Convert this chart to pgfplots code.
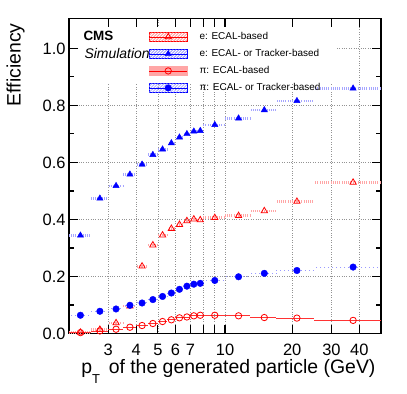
\documentclass[border=0pt]{standalone}
\usepackage{fontspec}
\setmainfont{Liberation Sans}
\usepackage{pgfplots}
\pgfplotsset{compat=1.18}
\usepackage{pgfplotstable}

% bin centre, value, half widths of the pT bin
\pgfplotstableread{
x    y     em   ep
2.25 0.004 0.25 0.25
2.75 0.014 0.25 0.25
3.25 0.037 0.25 0.25
3.75 0.096 0.25 0.25
4.25 0.236 0.25 0.25
4.75 0.310 0.25 0.25
5.25 0.345 0.25 0.25
5.75 0.368 0.25 0.25
6.25 0.382 0.25 0.25
6.75 0.395 0.25 0.25
7.25 0.401 0.25 0.25
7.75 0.398 0.25 0.25
9    0.406 1    1
11.5 0.413 1.5  1.5
15   0.430 2    2
21   0.463 4    4
37.5 0.530 12.5 12.5
}\eecal
\pgfplotstableread{
x    y     em   ep
2.25 0.344 0.25 0.25
2.75 0.474 0.25 0.25
3.25 0.518 0.25 0.25
3.75 0.558 0.25 0.25
4.25 0.593 0.25 0.25
4.75 0.627 0.25 0.25
5.25 0.646 0.25 0.25
5.75 0.668 0.25 0.25
6.25 0.688 0.25 0.25
6.75 0.700 0.25 0.25
7.25 0.709 0.25 0.25
7.75 0.711 0.25 0.25
9    0.732 1    1
11.5 0.755 1.5  1.5
15   0.784 2    2
21   0.816 4    4
37.5 0.860 12.5 12.5
}\etrk
\pgfplotstableread{
x    y     em   ep
2.25 0.003 0.25 0.25
2.75 0.009 0.25 0.25
3.25 0.015 0.25 0.25
3.75 0.022 0.25 0.25
4.25 0.028 0.25 0.25
4.75 0.035 0.25 0.25
5.25 0.042 0.25 0.25
5.75 0.048 0.25 0.25
6.25 0.055 0.25 0.25
6.75 0.058 0.25 0.25
7.25 0.062 0.25 0.25
7.75 0.064 0.25 0.25
9    0.064 1    1
11.5 0.062 1.5  1.5
15   0.056 2    2
21   0.054 4    4
37.5 0.046 12.5 12.5
}\piecal
\pgfplotstableread{
x    y     em   ep
2.25 0.064 0.25 0.25
2.75 0.078 0.25 0.25
3.25 0.086 0.25 0.25
3.75 0.099 0.25 0.25
4.25 0.107 0.25 0.25
4.75 0.119 0.25 0.25
5.25 0.130 0.25 0.25
5.75 0.142 0.25 0.25
6.25 0.155 0.25 0.25
6.75 0.166 0.25 0.25
7.25 0.173 0.25 0.25
7.75 0.176 0.25 0.25
9    0.186 1    1
11.5 0.199 1.5  1.5
15   0.211 2    2
21   0.221 4    4
37.5 0.233 12.5 12.5
}\pitrk

% hatched legend box, colour as argument
\newcommand{\hatchbox}[1]{%
  \begin{scope}
    \clip (0bp,-4.5bp) rectangle (38bp,4.5bp);
    \foreach \i in {-9,-6,...,39} {\draw[#1, line width=0.6bp] (\i bp,-4.5bp) -- ++(9bp,9bp);}
  \end{scope}}

\begin{document}
\begin{tikzpicture}
\begin{axis}[
  scale only axis, width=312bp, height=315bp,
  xmode=log, xmin=2, xmax=50, ymin=0, ymax=1.105,
  xtick={2,3,4,5,6,7,8,9,10,20,30,40,50},
  xticklabels={,3,4,5,6,7,,,10,20,30,40,},
  minor xtick={},
  ytick={0,0.2,0.4,0.6,0.8,1.0}, minor y tick num=1,
  tick align=inside, major tick length=9bp, minor tick length=5bp,
  tick style={black, line width=1.1bp},
  axis line style={line width=1.6bp},
  grid=major, grid style={dotted, gray!85, line width=0.6bp},
  tick label style={font=\fontsize{16.5}{16.5}\selectfont},
  xticklabel style={anchor=base, yshift=-22.4bp},
  y tick label style={/pgf/number format/.cd, fixed, fixed zerofill, precision=1, assume math mode=true},
  xlabel={p\raisebox{-0.5em}{\fontsize{13}{13}\selectfont T}\, of the generated particle (GeV)},
  xlabel style={at={(rel axis cs:0.9936,-0.127)}, anchor=base east, font=\fontsize{19.5}{19.5}\selectfont},
  ylabel={Efficiency},
  ylabel style={at={(rel axis cs:-0.1548,0.9952)}, anchor=base east, font=\fontsize{19.5}{19.5}\selectfont},
  legend style={at={(0.2554,0.958)}, anchor=north west, draw=none, fill=none,
    inner sep=0pt, row sep=7bp, column sep=12bp,
    font=\fontsize{10}{10}\selectfont,
    nodes={inner sep=0pt, text height=7.5bp, text depth=2.5bp}},
  legend cell align=left,
]
\fill[white] (rel axis cs:0.032,0.792) rectangle (rel axis cs:0.859,0.973);

\addplot[only marks, mark=triangle, mark size=3.6bp, red, mark options={line width=0.8bp},
  error bars/.cd, x dir=both, x explicit, error mark=none,
  error bar style={line width=2.6bp, red!35, dash pattern=on 0.6bp off 1.6bp},
  /pgfplots/legend image code/.code={
    \hatchbox{red!45}
    \draw[red, line width=0.7bp] (0bp,0bp) -- (38bp,0bp);
    \draw plot coordinates {(19bp,0bp)};}]
  table[x=x, y=y, x error minus=em, x error plus=ep] {\eecal};
\addlegendentry{e: ECAL-based}

\addplot[only marks, mark=triangle*, mark size=3.6bp, blue,
  error bars/.cd, x dir=both, x explicit, error mark=none,
  error bar style={line width=2.6bp, blue!35, dash pattern=on 0.6bp off 1.6bp},
  /pgfplots/legend image code/.code={
    \hatchbox{blue!45}
    \draw[blue, line width=0.7bp] (0bp,0bp) -- (38bp,0bp);
    \draw plot coordinates {(19bp,0bp)};}]
  table[x=x, y=y, x error minus=em, x error plus=ep] {\etrk};
\addlegendentry{e: ECAL- or Tracker-based}

\addplot[only marks, mark=o, mark size=3.2bp, red, mark options={line width=0.8bp},
  error bars/.cd, x dir=both, x explicit, error mark=none,
  error bar style={line width=0.8bp, red!80},
  /pgfplots/legend image code/.code={
    \fill[red!35] (0bp,-4.5bp) rectangle (38bp,4.5bp);
    \draw[red, line width=0.7bp] (0bp,0bp) -- (38bp,0bp);
    \draw plot coordinates {(19bp,0bp)};}]
  table[x=x, y=y, x error minus=em, x error plus=ep] {\piecal};
\addlegendentry{π: ECAL-based}

\addplot[only marks, mark=*, mark size=3.3bp, blue,
  error bars/.cd, x dir=both, x explicit, error mark=none,
  error bar style={line width=1bp, blue!40, dash pattern=on 1bp off 3bp},
  /pgfplots/legend image code/.code={
    \hatchbox{blue!35}
    \draw[blue, line width=0.7bp] (0bp,0bp) -- (38bp,0bp);
    \draw plot coordinates {(19bp,0bp)};}]
  table[x=x, y=y, x error minus=em, x error plus=ep] {\pitrk};
\addlegendentry{π: ECAL- or Tracker-based}

\node[anchor=base west, font=\bfseries\fontsize{13.5}{13.5}\selectfont] at (rel axis cs:0.0353,0.9286) {CMS};
\node[anchor=base west, font=\itshape\fontsize{14}{14}\selectfont] at (rel axis cs:0.0385,0.8737) {Simulation};

\coordinate (bl) at (rel axis cs:0,0);
\coordinate (tr) at (rel axis cs:1,1);
\end{axis}
\pgfresetboundingbox
\path (bl) ++(-69bp,-59.7bp) rectangle (tr) ++(26bp,18.5bp);
\end{tikzpicture}
\end{document}
